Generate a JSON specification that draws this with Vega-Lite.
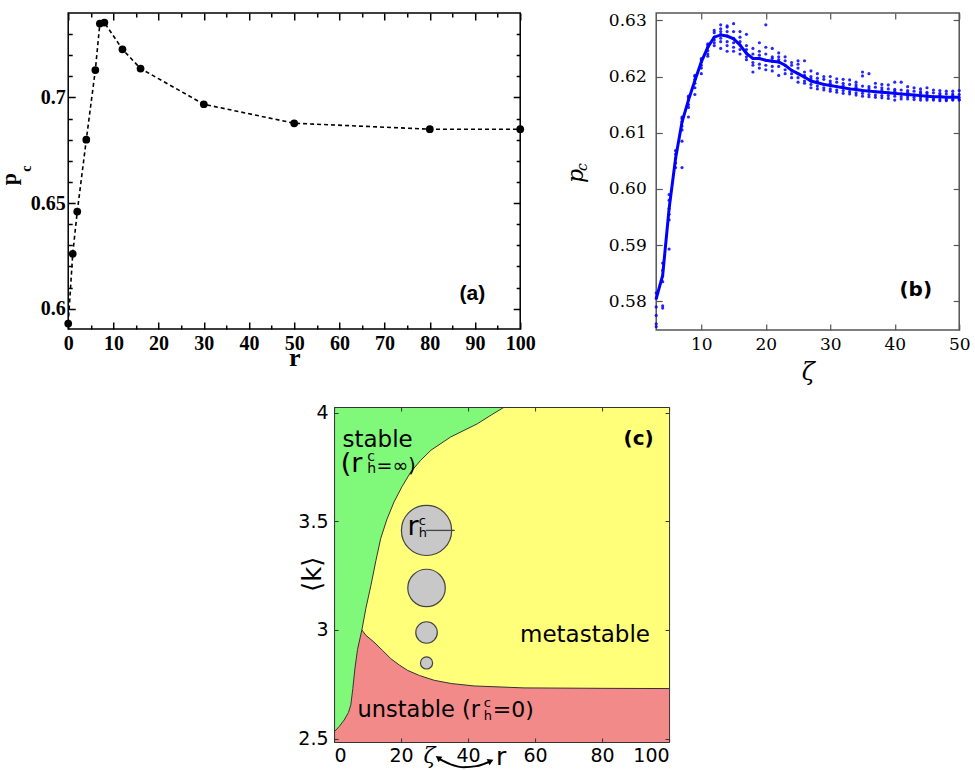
{
"$schema":"https://vega.github.io/schema/vega-lite/v6.json",
"padding":{"left":-3,"top":10,"right":5,"bottom":0},
"background":"white",
"bounds":"full",
"center":true,
"spacing":18,
"config":{"axis":{"grid":false},"text":{"color":"black"}},
"datasets":{
"a":[{"r":0,"p":0.593},{"r":1,"p":0.626},{"r":2,"p":0.646},{"r":4,"p":0.680},{"r":6,"p":0.713},{"r":7,"p":0.735},{"r":8,"p":0.7355},{"r":12,"p":0.7228},{"r":16,"p":0.7137},{"r":30,"p":0.6968},{"r":50,"p":0.6878},{"r":80,"p":0.685},{"r":100,"p":0.685}],
"bl":[{"z":3,"p":0.5805},{"z":4,"p":0.5846},{"z":5,"p":0.5965},{"z":6,"p":0.6054},{"z":7,"p":0.6119},{"z":8,"p":0.6158},{"z":9,"p":0.6193},{"z":10,"p":0.6226},{"z":11,"p":0.6252},{"z":12,"p":0.627},{"z":13,"p":0.6274},{"z":14,"p":0.6272},{"z":15,"p":0.6267},{"z":16,"p":0.6256},{"z":17,"p":0.6241},{"z":18,"p":0.6232},{"z":19,"p":0.6232},{"z":20,"p":0.6229},{"z":21,"p":0.6227},{"z":22,"p":0.6226},{"z":23,"p":0.622},{"z":24,"p":0.6211},{"z":25,"p":0.6205},{"z":26,"p":0.6199},{"z":27,"p":0.6192},{"z":28,"p":0.6189},{"z":29,"p":0.6186},{"z":30,"p":0.6184},{"z":31,"p":0.6182},{"z":32,"p":0.618},{"z":33,"p":0.6178},{"z":34,"p":0.6177},{"z":35,"p":0.6175},{"z":36,"p":0.6174},{"z":37,"p":0.6173},{"z":38,"p":0.6172},{"z":39,"p":0.6171},{"z":40,"p":0.617},{"z":41,"p":0.6169},{"z":42,"p":0.6168},{"z":43,"p":0.6167},{"z":44,"p":0.6166},{"z":45,"p":0.6165},{"z":46,"p":0.6164},{"z":47,"p":0.6164},{"z":48,"p":0.6163},{"z":49,"p":0.6163},{"z":50,"p":0.6163}],
"bs":[
{"z":3,"p":0.5805},{"z":3,"p":0.579},{"z":3,"p":0.5775},{"z":3,"p":0.576},{"z":3,"p":0.5755},{"z":3,"p":0.5815},
{"z":4,"p":0.5845},{"z":4,"p":0.5855},{"z":4,"p":0.5835},{"z":4,"p":0.5792},{"z":4,"p":0.5788},{"z":4,"p":0.5868},
{"z":5,"p":0.5965},{"z":5,"p":0.598},{"z":5,"p":0.5955},{"z":5,"p":0.5945},{"z":5,"p":0.599},{"z":5,"p":0.5893},
{"z":6,"p":0.6054},{"z":6,"p":0.6062},{"z":6,"p":0.6046},{"z":6,"p":0.6038},{"z":6,"p":0.6068},
{"z":7,"p":0.612},{"z":7,"p":0.6128},{"z":7,"p":0.6112},{"z":7,"p":0.6105},{"z":7,"p":0.6125},{"z":7,"p":0.6038},{"z":7,"p":0.6085},
{"z":8,"p":0.6158},{"z":8,"p":0.6165},{"z":8,"p":0.615},{"z":8,"p":0.6145},{"z":8,"p":0.6162},{"z":8,"p":0.6128},
{"z":9,"p":0.6195},{"z":9,"p":0.6202},{"z":9,"p":0.6188},{"z":9,"p":0.618},{"z":9,"p":0.62},{"z":9,"p":0.6168},
{"z":10,"p":0.6226},{"z":10,"p":0.6232},{"z":10,"p":0.622},{"z":10,"p":0.6215},{"z":10,"p":0.623},{"z":10,"p":0.6205},
{"z":11,"p":0.6252},{"z":11,"p":0.6256},{"z":11,"p":0.6246},{"z":11,"p":0.624},{"z":11,"p":0.6258},{"z":11,"p":0.6236},
{"z":12,"p":0.627},{"z":12,"p":0.6278},{"z":12,"p":0.6265},{"z":12,"p":0.626},{"z":12,"p":0.6282},{"z":12,"p":0.6255},
{"z":13,"p":0.6275},{"z":13,"p":0.6285},{"z":13,"p":0.6292},{"z":13,"p":0.6268},{"z":13,"p":0.6262},{"z":13,"p":0.625},{"z":13,"p":0.628},
{"z":14,"p":0.6272},{"z":14,"p":0.6288},{"z":14,"p":0.628},{"z":14,"p":0.6262},{"z":14,"p":0.6255},{"z":14,"p":0.6245},{"z":14,"p":0.629},
{"z":15,"p":0.6268},{"z":15,"p":0.628},{"z":15,"p":0.6294},{"z":15,"p":0.626},{"z":15,"p":0.6252},{"z":15,"p":0.6245},
{"z":16,"p":0.6256},{"z":16,"p":0.627},{"z":16,"p":0.628},{"z":16,"p":0.6248},{"z":16,"p":0.624},{"z":16,"p":0.6262},
{"z":17,"p":0.6242},{"z":17,"p":0.6255},{"z":17,"p":0.6275},{"z":17,"p":0.6235},{"z":17,"p":0.623},{"z":17,"p":0.6248},
{"z":18,"p":0.6232},{"z":18,"p":0.624},{"z":18,"p":0.625},{"z":18,"p":0.6225},{"z":18,"p":0.6208},{"z":18,"p":0.622},
{"z":19,"p":0.6232},{"z":19,"p":0.6245},{"z":19,"p":0.626},{"z":19,"p":0.6222},{"z":19,"p":0.6215},{"z":19,"p":0.6238},
{"z":20,"p":0.6229},{"z":20,"p":0.624},{"z":20,"p":0.6252},{"z":20,"p":0.622},{"z":20,"p":0.6212},{"z":20,"p":0.6292},
{"z":21,"p":0.6227},{"z":21,"p":0.6235},{"z":21,"p":0.625},{"z":21,"p":0.6218},{"z":21,"p":0.621},{"z":21,"p":0.6232},
{"z":22,"p":0.6226},{"z":22,"p":0.6235},{"z":22,"p":0.6242},{"z":22,"p":0.6218},{"z":22,"p":0.6202},{"z":22,"p":0.623},
{"z":23,"p":0.622},{"z":23,"p":0.6228},{"z":23,"p":0.6235},{"z":23,"p":0.6212},{"z":23,"p":0.6205},
{"z":24,"p":0.6211},{"z":24,"p":0.622},{"z":24,"p":0.6225},{"z":24,"p":0.6205},{"z":24,"p":0.6198},
{"z":25,"p":0.6205},{"z":25,"p":0.6215},{"z":25,"p":0.6228},{"z":25,"p":0.6198},{"z":25,"p":0.619},{"z":25,"p":0.6222},
{"z":26,"p":0.6199},{"z":26,"p":0.6208},{"z":26,"p":0.6228},{"z":26,"p":0.6192},{"z":26,"p":0.6188},{"z":26,"p":0.6202},
{"z":27,"p":0.6192},{"z":27,"p":0.62},{"z":27,"p":0.621},{"z":27,"p":0.6186},{"z":27,"p":0.618},{"z":27,"p":0.6196},
{"z":28,"p":0.6189},{"z":28,"p":0.6197},{"z":28,"p":0.6205},{"z":28,"p":0.6183},{"z":28,"p":0.6178},{"z":28,"p":0.6192},
{"z":29,"p":0.6186},{"z":29,"p":0.6195},{"z":29,"p":0.62},{"z":29,"p":0.618},{"z":29,"p":0.6176},
{"z":30,"p":0.6184},{"z":30,"p":0.6192},{"z":30,"p":0.62},{"z":30,"p":0.6178},{"z":30,"p":0.6174},{"z":30,"p":0.6188},
{"z":31,"p":0.6182},{"z":31,"p":0.619},{"z":31,"p":0.6196},{"z":31,"p":0.6176},{"z":31,"p":0.6172},
{"z":32,"p":0.618},{"z":32,"p":0.6188},{"z":32,"p":0.6195},{"z":32,"p":0.6175},{"z":32,"p":0.617},{"z":32,"p":0.6184},
{"z":33,"p":0.6178},{"z":33,"p":0.6186},{"z":33,"p":0.6194},{"z":33,"p":0.6173},{"z":33,"p":0.6169},
{"z":34,"p":0.6177},{"z":34,"p":0.6185},{"z":34,"p":0.619},{"z":34,"p":0.6171},{"z":34,"p":0.6167},{"z":34,"p":0.6181},
{"z":35,"p":0.6175},{"z":35,"p":0.6183},{"z":35,"p":0.6208},{"z":35,"p":0.617},{"z":35,"p":0.6165},{"z":35,"p":0.6201},
{"z":36,"p":0.6174},{"z":36,"p":0.6182},{"z":36,"p":0.6205},{"z":36,"p":0.6168},{"z":36,"p":0.6164},{"z":36,"p":0.6178},
{"z":37,"p":0.6173},{"z":37,"p":0.6181},{"z":37,"p":0.6188},{"z":37,"p":0.6167},{"z":37,"p":0.6163},
{"z":38,"p":0.6172},{"z":38,"p":0.618},{"z":38,"p":0.6186},{"z":38,"p":0.6166},{"z":38,"p":0.6162},{"z":38,"p":0.6176},
{"z":39,"p":0.6171},{"z":39,"p":0.6178},{"z":39,"p":0.6185},{"z":39,"p":0.6166},{"z":39,"p":0.6161},
{"z":40,"p":0.617},{"z":40,"p":0.6177},{"z":40,"p":0.619},{"z":40,"p":0.6165},{"z":40,"p":0.6158},{"z":40,"p":0.6174},
{"z":41,"p":0.6169},{"z":41,"p":0.6176},{"z":41,"p":0.619},{"z":41,"p":0.6164},{"z":41,"p":0.616},
{"z":42,"p":0.6168},{"z":42,"p":0.6175},{"z":42,"p":0.6182},{"z":42,"p":0.6164},{"z":42,"p":0.616},{"z":42,"p":0.6172},
{"z":43,"p":0.6167},{"z":43,"p":0.6174},{"z":43,"p":0.618},{"z":43,"p":0.6163},{"z":43,"p":0.6159},
{"z":44,"p":0.6166},{"z":44,"p":0.6173},{"z":44,"p":0.6178},{"z":44,"p":0.6162},{"z":44,"p":0.6158},{"z":44,"p":0.617},
{"z":45,"p":0.6165},{"z":45,"p":0.6172},{"z":45,"p":0.618},{"z":45,"p":0.6161},{"z":45,"p":0.6158},{"z":45,"p":0.6169},
{"z":46,"p":0.6164},{"z":46,"p":0.6171},{"z":46,"p":0.6176},{"z":46,"p":0.616},{"z":46,"p":0.6158},
{"z":47,"p":0.6164},{"z":47,"p":0.617},{"z":47,"p":0.6175},{"z":47,"p":0.616},{"z":47,"p":0.6157},{"z":47,"p":0.6167},
{"z":48,"p":0.6163},{"z":48,"p":0.6169},{"z":48,"p":0.6174},{"z":48,"p":0.6159},{"z":48,"p":0.6157},
{"z":49,"p":0.6163},{"z":49,"p":0.6169},{"z":49,"p":0.6174},{"z":49,"p":0.6159},{"z":49,"p":0.6158},{"z":49,"p":0.6166},
{"z":50,"p":0.6163},{"z":50,"p":0.6168},{"z":50,"p":0.6175},{"z":50,"p":0.6159},{"z":50,"p":0.6158}],
"cb":[
{"b":"g","x":0,"y":2.53},{"b":"g","x":1.5,"y":2.555},{"b":"g","x":3,"y":2.585},{"b":"g","x":4.3,"y":2.62},{"b":"g","x":5,"y":2.655},{"b":"g","x":5.6,"y":2.73},{"b":"g","x":6.2,"y":2.82},{"b":"g","x":7,"y":2.91},{"b":"g","x":8.3,"y":3.0},{"b":"g","x":9.5,"y":3.1},{"b":"g","x":11,"y":3.205},{"b":"g","x":12.5,"y":3.32},{"b":"g","x":13.9,"y":3.42},{"b":"g","x":15.8,"y":3.51},{"b":"g","x":17.9,"y":3.589},{"b":"g","x":20.3,"y":3.66},{"b":"g","x":22.9,"y":3.727},{"b":"g","x":25.8,"y":3.78},{"b":"g","x":28.9,"y":3.827},{"b":"g","x":34.8,"y":3.888},{"b":"g","x":42.8,"y":3.949},{"b":"g","x":47,"y":3.99},{"b":"g","x":51.3,"y":4.03},
{"b":"r","x":8.3,"y":3.0},{"b":"r","x":9.5,"y":2.975},{"b":"r","x":11.9,"y":2.944},{"b":"r","x":14.5,"y":2.905},{"b":"r","x":16.9,"y":2.868},{"b":"r","x":19.5,"y":2.838},{"b":"r","x":21.9,"y":2.814},{"b":"r","x":25.5,"y":2.79},{"b":"r","x":29.9,"y":2.768},{"b":"r","x":35,"y":2.753},{"b":"r","x":41.8,"y":2.742},{"b":"r","x":56.7,"y":2.733},{"b":"r","x":80,"y":2.731},{"b":"r","x":100,"y":2.73}],
"cc":[{"x":27.6,"y":3.458,"rh":5.67},{"x":27.6,"y":3.193,"rh":4.23},{"x":27.6,"y":2.988,"rh":2.43},{"x":27.6,"y":2.848,"rh":1.37}],
"arw":[{"x":31.5,"y":2.405},{"x":35,"y":2.38},{"x":38.7,"y":2.368},{"x":42.5,"y":2.373},{"x":46.2,"y":2.392}]
},
"vconcat":[
{"spacing":28,"hconcat":[
{
"width":452,"height":316,
"view":{"stroke":"black","strokeWidth":1.5},
"layer":[
{"data":{"name":"a"},"mark":{"type":"line","color":"black","strokeDash":[4,3],"strokeWidth":1.6},
 "encoding":{
 "x":{"field":"r","type":"quantitative","scale":{"domain":[0,100],"nice":false},
  "axis":{"orient":"bottom","values":[0,10,20,30,40,50,60,70,80,90,100],"tickSize":-7,"tickWidth":1.5,"tickColor":"black","labelFont":"Liberation Serif","labelFontWeight":"bold","labelFontSize":20,"labelColor":"black","labelPadding":11,"labelFlush":false,"labelOverlap":false,"domain":false,"title":"r","titleFont":"Liberation Serif","titleFontWeight":"bold","titleFontSize":26,"titleColor":"black","titlePadding":-9}},
 "y":{"field":"p","type":"quantitative","scale":{"domain":[0.5904,0.74],"nice":false,"zero":false},
  "axis":{"orient":"left","values":[0.6,0.65,0.7],"format":"~g","tickSize":-7,"tickWidth":1.5,"tickColor":"black","labelFont":"Liberation Serif","labelFontWeight":"bold","labelFontSize":20,"labelColor":"black","labelPadding":10,"labelOverlap":false,"domain":false,"title":null}}}},
{"data":{"name":"a"},"mark":{"type":"point","filled":true,"color":"black","size":60,"opacity":1},
 "encoding":{
 "x":{"field":"r","type":"quantitative","axis":{"orient":"bottom","values":[5,15,25,35,45,55,65,75,85,95],"tickSize":-4,"tickWidth":1.5,"tickColor":"black","labels":false,"domain":false,"title":null}},
 "y":{"field":"p","type":"quantitative","axis":{"orient":"left","values":[0.61,0.62,0.63,0.64,0.66,0.67,0.68,0.69,0.71,0.72,0.73],"tickSize":-4,"tickWidth":1.5,"tickColor":"black","labels":false,"domain":false,"title":null}}}},
{"data":{"name":"a"},"mark":{"type":"point","opacity":0},
 "encoding":{
 "x":{"field":"r","type":"quantitative","axis":{"orient":"top","values":[0,10,20,30,40,50,60,70,80,90,100],"tickSize":-7,"tickWidth":1.5,"tickColor":"black","labels":false,"domain":false,"title":null}},
 "y":{"field":"p","type":"quantitative","axis":{"orient":"right","values":[0.6,0.65,0.7],"tickSize":-7,"tickWidth":1.5,"tickColor":"black","labels":false,"domain":false,"title":null}}}},
{"data":{"name":"a"},"mark":{"type":"point","opacity":0},
 "encoding":{
 "x":{"field":"r","type":"quantitative","axis":{"orient":"top","values":[5,15,25,35,45,55,65,75,85,95],"tickSize":-4,"tickWidth":1.5,"tickColor":"black","labels":false,"domain":false,"title":null}},
 "y":{"field":"p","type":"quantitative","axis":{"orient":"right","values":[0.61,0.62,0.63,0.64,0.66,0.67,0.68,0.69,0.71,0.72,0.73],"tickSize":-4,"tickWidth":1.5,"tickColor":"black","labels":false,"domain":false,"title":null}}}},
{"data":{"values":[{}]},"mark":{"type":"text","text":"(a)","font":"Liberation Sans","fontWeight":"bold","fontSize":21,"align":"center","baseline":"middle"},
 "encoding":{"x":{"datum":89.4,"axis":null},"y":{"datum":0.6071,"axis":null}}},
{"data":{"values":[{}]},"mark":{"type":"text","text":"p","font":"Liberation Serif","fontWeight":"bold","fontSize":22,"angle":-90,"align":"center","baseline":"middle"},
 "encoding":{"x":{"datum":-13.1,"axis":null},"y":{"datum":0.6614,"axis":null}}},
{"data":{"values":[{}]},"mark":{"type":"text","text":"c","font":"Liberation Serif","fontWeight":"bold","fontSize":14,"angle":-90,"align":"center","baseline":"middle"},
 "encoding":{"x":{"datum":-9.07,"axis":null},"y":{"datum":0.6663,"axis":null}}}
],
"resolve":{"axis":{"x":"independent","y":"independent"}}
},
{
"width":303,"height":317,
"view":{"stroke":"#555","strokeWidth":1.5},
"layer":[
{"data":{"name":"bs"},"mark":{"type":"circle","color":"#0000FF","size":10,"opacity":0.85},
 "encoding":{
 "x":{"field":"z","type":"quantitative","scale":{"domain":[3,50],"nice":false,"zero":false},
  "axis":{"orient":"bottom","values":[10,20,30,40,50],"tickSize":-6,"tickWidth":1.2,"tickColor":"#555","labelFont":"DejaVu Serif","labelFontSize":17,"labelColor":"black","labelPadding":12,"labelFlush":false,"labelOverlap":false,"domain":false,"title":"ζ","titleFont":"DejaVu Serif","titleFontStyle":"italic","titleFontWeight":"normal","titleFontSize":24,"titleColor":"black","titlePadding":8}},
 "y":{"field":"p","type":"quantitative","scale":{"domain":[0.5749,0.6313],"nice":false,"zero":false},
  "axis":{"orient":"left","values":[0.58,0.59,0.6,0.61,0.62,0.63],"format":".2f","tickSize":-6,"tickWidth":1.2,"tickColor":"#555","labelFont":"DejaVu Serif","labelFontSize":17,"labelColor":"black","labelPadding":16,"labelOverlap":false,"domain":false,"title":null}}}},
{"data":{"name":"bl"},"mark":{"type":"line","color":"#0000FF","strokeWidth":3},
 "encoding":{
 "x":{"field":"z","type":"quantitative","axis":{"orient":"top","values":[10,20,30,40,50],"tickSize":-6,"tickWidth":1.2,"tickColor":"#555","labels":false,"domain":false,"title":null}},
 "y":{"field":"p","type":"quantitative","axis":{"orient":"right","values":[0.58,0.59,0.6,0.61,0.62,0.63],"tickSize":-6,"tickWidth":1.2,"tickColor":"#555","labels":false,"domain":false,"title":null}}}},
{"data":{"values":[{}]},"mark":{"type":"text","text":"(b)","font":"DejaVu Sans","fontWeight":"bold","fontSize":20,"align":"center","baseline":"middle"},
 "encoding":{"x":{"datum":43.26,"axis":null},"y":{"datum":0.582,"axis":null}}},
{"data":{"values":[{}]},"mark":{"type":"text","text":"p","font":"DejaVu Serif","fontStyle":"italic","fontSize":22,"angle":-90,"align":"center","baseline":"middle"},
 "encoding":{"x":{"datum":-9.4,"axis":null},"y":{"datum":0.6023,"axis":null}}},
{"data":{"values":[{}]},"mark":{"type":"text","text":"c","font":"DejaVu Serif","fontStyle":"italic","fontSize":14,"angle":-90,"align":"center","baseline":"middle"},
 "encoding":{"x":{"datum":-8.3,"axis":null},"y":{"datum":0.6039,"axis":null}}}
],
"resolve":{"axis":{"x":"independent","y":"independent"}}
}
]},
{
"width":335,"height":335,
"view":{"stroke":null,"fill":"#FFFF7A"},
"layer":[
{"data":{"name":"cb"},"transform":[{"filter":"(datum.b == 'g' && datum.x <= 8.3) || datum.b == 'r'"}],
 "mark":{"type":"area","color":"#F28A8A","opacity":1,"clip":true},
 "encoding":{
 "x":{"field":"x","type":"quantitative","scale":{"domain":[0,100],"nice":false},
  "axis":{"orient":"bottom","values":[0,20,40,60,80,100],"tickSize":-4,"tickColor":"#333","labelFont":"DejaVu Sans","labelFontSize":19,"labelColor":"black","labelPadding":8,"labelFlush":true,"labelOverlap":false,"domain":true,"domainColor":"#333","domainWidth":1,"zindex":1,"title":null}},
 "y":{"field":"y","type":"quantitative","scale":{"domain":[2.484,4.026],"nice":false,"zero":false},
  "axis":{"orient":"left","values":[2.5,3,3.5,4],"format":"~g","tickSize":-4,"tickColor":"#333","labelFont":"DejaVu Sans","labelFontSize":19,"labelColor":"black","labelPadding":10,"labelOverlap":false,"domain":true,"domainColor":"#333","domainWidth":1,"zindex":1,"title":null}},
 "y2":{"datum":2.484}}},
{"data":{"name":"cb"},"transform":[{"filter":"datum.b == 'g'"}],
 "mark":{"type":"area","color":"#80F87A","opacity":1,"clip":true},
 "encoding":{
 "x":{"field":"x","type":"quantitative","axis":{"orient":"top","values":[0,20,40,60,80,100],"tickSize":-4,"tickColor":"#333","labels":false,"domain":true,"domainColor":"#333","domainWidth":1,"zindex":1,"title":null}},
 "y":{"field":"y","type":"quantitative","axis":{"orient":"right","values":[2.5,3,3.5,4],"tickSize":-4,"tickColor":"#333","labels":false,"domain":true,"domainColor":"#333","domainWidth":1,"zindex":1,"title":null}},
 "y2":{"datum":4.026}}},
{"data":{"name":"cb"},"mark":{"type":"line","color":"#333","strokeWidth":1,"clip":true},
 "encoding":{"x":{"field":"x","type":"quantitative","axis":null},"y":{"field":"y","type":"quantitative","axis":null},"detail":{"field":"b"}}},
{"data":{"name":"cc"},"mark":{"type":"point","shape":"circle","filled":true,"fill":"#C8C8C8","stroke":"#444","strokeWidth":1.2,"opacity":1},
 "encoding":{"x":{"field":"x","type":"quantitative","axis":null},"y":{"field":"y","type":"quantitative","axis":null},
 "size":{"field":"rh","type":"quantitative","scale":{"type":"pow","exponent":2,"domain":[0,6],"range":[0,2827]},"legend":null}}},
{"data":{"values":[{}]},"mark":{"type":"rule","color":"#444","strokeWidth":1.3},
 "encoding":{"x":{"datum":27.4,"axis":null},"x2":{"datum":36.0},"y":{"datum":3.458,"axis":null}}},
{"data":{"values":[{}]},"mark":{"type":"text","text":"stable","font":"DejaVu Sans","fontSize":23,"align":"left","baseline":"alphabetic"},
 "encoding":{"x":{"datum":2.5,"axis":null},"y":{"datum":3.842,"axis":null}}},
{"data":{"values":[{}]},"mark":{"type":"text","text":"(r","font":"DejaVu Sans","fontSize":27,"align":"left","baseline":"alphabetic"},
 "encoding":{"x":{"datum":2.0,"axis":null},"y":{"datum":3.725,"axis":null}}},
{"data":{"values":[{}]},"mark":{"type":"text","text":"c","font":"DejaVu Sans","fontSize":14,"align":"left","baseline":"alphabetic"},
 "encoding":{"x":{"datum":9.9,"axis":null},"y":{"datum":3.776,"axis":null}}},
{"data":{"values":[{}]},"mark":{"type":"text","text":"h","font":"DejaVu Sans","fontSize":14,"align":"left","baseline":"alphabetic"},
 "encoding":{"x":{"datum":9.9,"axis":null},"y":{"datum":3.72,"axis":null}}},
{"data":{"values":[{}]},"mark":{"type":"text","text":"=∞)","font":"DejaVu Sans","fontSize":19,"align":"left","baseline":"alphabetic"},
 "encoding":{"x":{"datum":12.7,"axis":null},"y":{"datum":3.725,"axis":null}}},
{"data":{"values":[{}]},"mark":{"type":"text","text":"r","font":"DejaVu Sans","fontSize":27,"align":"left","baseline":"alphabetic"},
 "encoding":{"x":{"datum":21.9,"axis":null},"y":{"datum":3.435,"axis":null}}},
{"data":{"values":[{}]},"mark":{"type":"text","text":"c","font":"DejaVu Sans","fontSize":13,"align":"left","baseline":"alphabetic"},
 "encoding":{"x":{"datum":25.3,"axis":null},"y":{"datum":3.481,"axis":null}}},
{"data":{"values":[{}]},"mark":{"type":"text","text":"h","font":"DejaVu Sans","fontSize":13,"align":"left","baseline":"alphabetic"},
 "encoding":{"x":{"datum":25.3,"axis":null},"y":{"datum":3.426,"axis":null}}},
{"data":{"values":[{}]},"mark":{"type":"text","text":"metastable","font":"DejaVu Sans","fontSize":23,"align":"center","baseline":"alphabetic"},
 "encoding":{"x":{"datum":74.9,"axis":null},"y":{"datum":2.944,"axis":null}}},
{"data":{"values":[{}]},"mark":{"type":"text","text":"unstable (r","font":"DejaVu Sans","fontSize":22.5,"align":"left","baseline":"alphabetic"},
 "encoding":{"x":{"datum":7.0,"axis":null},"y":{"datum":2.599,"axis":null}}},
{"data":{"values":[{}]},"mark":{"type":"text","text":"c","font":"DejaVu Sans","fontSize":13,"align":"left","baseline":"alphabetic"},
 "encoding":{"x":{"datum":44.7,"axis":null},"y":{"datum":2.645,"axis":null}}},
{"data":{"values":[{}]},"mark":{"type":"text","text":"h","font":"DejaVu Sans","fontSize":13,"align":"left","baseline":"alphabetic"},
 "encoding":{"x":{"datum":44.7,"axis":null},"y":{"datum":2.584,"axis":null}}},
{"data":{"values":[{}]},"mark":{"type":"text","text":"=0)","font":"DejaVu Sans","fontSize":22,"align":"left","baseline":"alphabetic"},
 "encoding":{"x":{"datum":47.4,"axis":null},"y":{"datum":2.599,"axis":null}}},
{"data":{"values":[{}]},"mark":{"type":"text","text":"(c)","font":"DejaVu Sans","fontWeight":"bold","fontSize":20,"align":"right","baseline":"alphabetic"},
 "encoding":{"x":{"datum":95.4,"axis":null},"y":{"datum":3.85,"axis":null}}},
{"data":{"values":[{}]},"mark":{"type":"text","text":"⟨k⟩","font":"DejaVu Sans","fontSize":26,"angle":-90,"align":"center","baseline":"middle"},
 "encoding":{"x":{"datum":-6.4,"axis":null},"y":{"datum":3.256,"axis":null}}},
{"data":{"values":[{}]},"mark":{"type":"text","text":"ζ","font":"DejaVu Serif","fontStyle":"italic","fontSize":22,"align":"center","baseline":"middle"},
 "encoding":{"x":{"datum":28.5,"axis":null},"y":{"datum":2.418,"axis":null}}},
{"data":{"values":[{}]},"mark":{"type":"text","text":"r","font":"DejaVu Sans","fontSize":25,"align":"left","baseline":"alphabetic"},
 "encoding":{"x":{"datum":48.3,"axis":null},"y":{"datum":2.378,"axis":null}}},
{"data":{"values":[{}]},"mark":{"type":"text","text":".","font":"DejaVu Sans","fontSize":10,"align":"right","baseline":"middle","opacity":0},
 "encoding":{"x":{"datum":110.7,"axis":null},"y":{"datum":3.2,"axis":null}}},
{"data":{"name":"arw"},"mark":{"type":"line","color":"black","strokeWidth":2,"interpolate":"monotone"},
 "encoding":{"x":{"field":"x","type":"quantitative","axis":null},"y":{"field":"y","type":"quantitative","axis":null}}},
{"data":{"values":[{}]},"mark":{"type":"point","shape":"triangle","filled":true,"color":"black","size":45,"angle":-55,"opacity":1},
 "encoding":{"x":{"datum":31.3,"axis":null},"y":{"datum":2.409,"axis":null}}},
{"data":{"values":[{}]},"mark":{"type":"point","shape":"triangle","filled":true,"color":"black","size":45,"angle":65,"opacity":1},
 "encoding":{"x":{"datum":46.5,"axis":null},"y":{"datum":2.395,"axis":null}}}
],
"resolve":{"axis":{"x":"independent","y":"independent"}}
}
]
}
